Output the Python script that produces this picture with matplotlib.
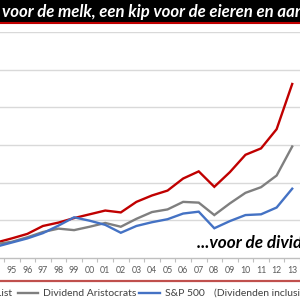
import matplotlib
matplotlib.use("Agg")
import matplotlib.pyplot as plt
from matplotlib.lines import Line2D
from matplotlib.patches import Rectangle

# ---- data (arbitrary units, 1 = one gridline) ----
years = list(range(1994, 2014))
tick_labels = ["95", "96", "97", "98", "99", "00", "01", "02", "03", "04",
               "05", "06", "07", "08", "09", "10", "11", "12", "13"]
red_list = [0.41, 0.52, 0.64, 0.85, 0.94, 1.06, 1.16, 1.26, 1.21, 1.49,
            1.66, 1.79, 2.11, 2.30, 1.89, 2.28, 2.74, 2.91, 3.42, 4.62]
aristocrats = [0.37, 0.43, 0.55, 0.69, 0.78, 0.74, 0.83, 0.93, 0.83, 1.04,
               1.22, 1.29, 1.49, 1.47, 1.14, 1.45, 1.73, 1.88, 2.19, 2.96]
sp500 = [0.30, 0.41, 0.52, 0.66, 0.86, 1.08, 0.99, 0.88, 0.67, 0.85,
         0.95, 1.03, 1.18, 1.23, 0.79, 0.98, 1.14, 1.16, 1.34, 1.84]
series_names = ["List", "Dividend Aristocrats", "S&P 500"]
note = "(Dividenden inclusief)"
title = "voor de melk, een kip voor de eieren en aandelen voor de dividenden"
annotation = "...voor de dividenden"

RED = "#C00000"
GRAY = "#7F7F7F"
BLUE = "#4472C4"

W = H = 300
fig = plt.figure(figsize=(3, 3), dpi=100)
fig.patch.set_facecolor("white")

def fx(px):
    return px / W

def fy(py):
    return 1 - py / H

ax_top, ax_bot = 32, 258
ax = fig.add_axes([0, fy(ax_bot), 1, (ax_bot - ax_top) / H])
ax.set_facecolor("white")

for vals, c in [(red_list, RED), (aristocrats, GRAY), (sp500, BLUE)]:
    ax.plot(years, vals, color=c, lw=1.7, solid_joinstyle="miter", clip_on=True)

px_per_year = 15.92
x0 = 1995 - 12 / px_per_year
ax.set_xlim(x0, x0 + W / px_per_year)
ax.set_ylim(0, 6)
ax.set_yticks([1, 2, 3, 4, 5, 6])
ax.yaxis.grid(True, color="#D9D9D9", lw=1)
ax.set_axisbelow(True)
ax.tick_params(axis="y", left=False, labelleft=False)

ax.set_xticks(years[1:])
ax.set_xticklabels(tick_labels, fontsize=6.3, color="#595959", family="Lato")
ax.tick_params(axis="x", length=0, pad=6)
ax.set_xticks([y + 0.5 for y in years], minor=True)
ax.tick_params(axis="x", which="minor", length=3, color="#BFBFBF", width=0.8)
for s in ["left", "right", "top"]:
    ax.spines[s].set_visible(False)
ax.spines["bottom"].set_color("#BFBFBF")
ax.spines["bottom"].set_linewidth(1)

ax.text(fx(197), fy(243), annotation, transform=fig.transFigure,
        fontsize=12.3, fontweight="bold", style="italic", family="Lato",
        color="black", va="center", ha="left", clip_on=False)

# title bar
fig.patches.append(Rectangle((-0.02, fy(22.5)), 1.04, 0.1, transform=fig.transFigure,
                             facecolor="black", edgecolor=RED, lw=1.5, zorder=5))
fig.text(fx(2), fy(12), title, color="white", fontsize=12.1, fontweight="bold",
         style="italic", family="Lato", va="center", ha="left", zorder=6)

# legend separator
fig.lines.append(Line2D([0, 1], [fy(281), fy(281)], transform=fig.transFigure,
                        color="#C0504D", lw=1.6))

# legend
ly = fy(293)
fs = 7.5
fig.text(fx(12), ly, series_names[0], fontsize=fs, color="#404040",
         family="Lato", va="center", ha="right")
fig.lines.append(Line2D([fx(18), fx(38)], [ly, ly], transform=fig.transFigure,
                        color=GRAY, lw=1.7))
fig.text(fx(43), ly, series_names[1], fontsize=fs, color="#404040",
         family="Lato", va="center", ha="left")
fig.lines.append(Line2D([fx(139), fx(160)], [ly, ly], transform=fig.transFigure,
                        color=BLUE, lw=1.7))
fig.text(fx(165), ly, series_names[2], fontsize=fs, color="#404040",
         family="Lato", va="center", ha="left")
fig.text(fx(214), ly, note, fontsize=fs, color="#404040",
         family="Lato", va="center", ha="left")

fig.savefig("out.png", dpi=100)
